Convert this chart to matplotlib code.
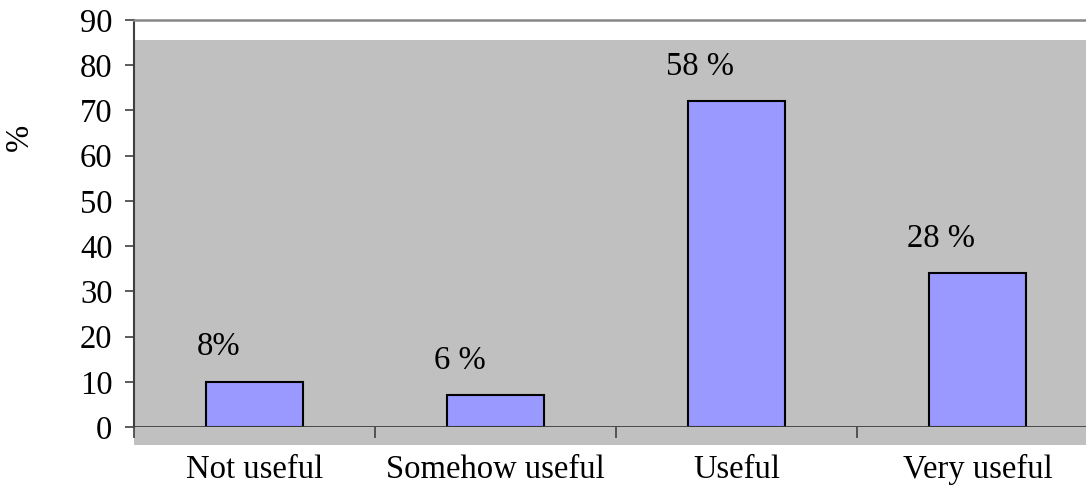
import matplotlib
matplotlib.use("Agg")
import matplotlib.pyplot as plt
from matplotlib.patches import Rectangle

# Survey responses
categories = ["Not useful", "Somehow useful", "Useful", "Very useful"]
values = [10, 7, 72, 34]
value_labels = ["8%", "6 %", "58 %", "28 %"]
yticks = [0, 10, 20, 30, 40, 50, 60, 70, 80, 90]

plt.rcParams["font.family"] = ["Liberation Serif", "DejaVu Serif"]
FS = 23.5

W, H = 1086, 494
fig = plt.figure(figsize=(W / 100, H / 100), dpi=100)
ax = fig.add_axes([134 / W, 67 / H, 964 / W, 407 / H])
ax.set_facecolor("white")

x = list(range(len(categories)))
ax.set_xlim(-0.5, len(categories) - 0.5)
ax.set_ylim(0, 90)

# gray plot wall, extending a bit below the zero line
wall = Rectangle((-0.5, -4), len(categories), 89.6, facecolor="#c0c0c0",
                 edgecolor="none", zorder=0, clip_on=False,
                 transform=ax.transData)
ax.add_patch(wall)

bars = ax.bar(x, values, width=0.4, color="#9999ff", edgecolor="black",
              linewidth=1.5, zorder=3)

for bar, lab in zip(bars, value_labels):
    ax.annotate(lab, (bar.get_x() + bar.get_width() / 2, bar.get_height()),
                xytext=(-26, 14), textcoords="offset points",
                ha="center", va="bottom", fontsize=FS, color="black")

# zero line
ax.axhline(0, color="#404040", lw=1.3, zorder=4)

for s in ["right", "bottom"]:
    ax.spines[s].set_visible(False)
ax.spines["left"].set_color("#404040")
ax.spines["left"].set_linewidth(1.5)
ax.spines["top"].set_color("#888888")
ax.spines["top"].set_linewidth(1.8)

ax.set_yticks(yticks)
ax.set_yticklabels([str(t) for t in yticks], fontsize=FS)
ax.tick_params(axis="y", direction="out", length=6.5, width=1.2,
               color="#404040", pad=9)

# category ticks sit between the groups
ax.set_xticks([i + 0.5 for i in x[:-1]] + [-0.5], minor=False)
ax.set_xticklabels([""] * len(x))
ax.tick_params(axis="x", direction="out", length=8, width=1.2,
               color="#404040")
for i, c in enumerate(categories):
    ax.text(i, -6.0, c, ha="center", va="top", fontsize=FS,
            transform=ax.transData, clip_on=False)

fig.text(20 / W, 1 - 137 / H, "%", rotation=90, ha="center", va="center",
         fontsize=FS)

fig.savefig("out.png", dpi=100)
